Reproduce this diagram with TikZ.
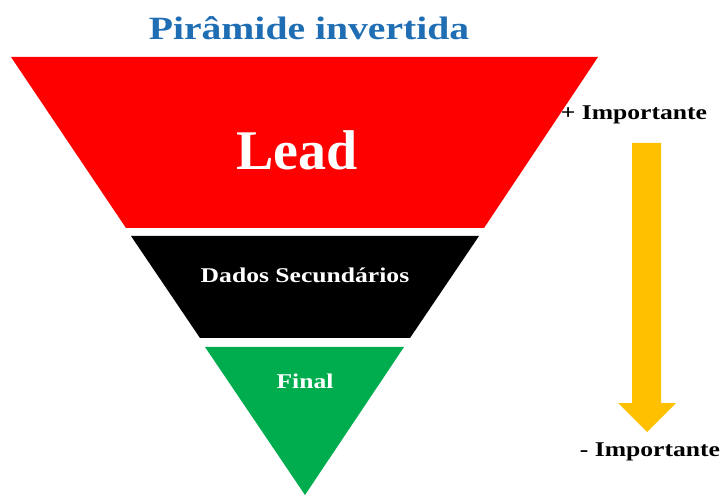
\documentclass[tikz,border=0pt]{standalone}
\usepackage{fontspec}
\setmainfont{Liberation Serif}
\newfontfamily\wideserif{Liberation Serif}[FakeStretch=1.22]
\definecolor{titleblue}{HTML}{1F6EB4}
\definecolor{leadred}{HTML}{FF0000}
\definecolor{finalgreen}{HTML}{00AD4E}
\definecolor{arrowgold}{HTML}{FFC000}

\begin{document}
\begin{tikzpicture}[x=1pt,y=-1pt,
    layertext/.style={text=white, font=\wideserif\bfseries\fontsize{21}{24}\selectfont},
    sidetext/.style={text=black, font=\wideserif\bfseries\fontsize{21}{24}\selectfont}]
    \useasboundingbox (0,0) rectangle (721,497);
    \fill[leadred] (11,57) -- (598,57) -- (484,228) -- (126,228) -- cycle;
    \fill[black] (131,236) -- (479,236) -- (410,338) -- (200,338) -- cycle;
    \fill[finalgreen] (205,347) -- (404,347) -- (305,495) -- cycle;
    \draw (309,28)node(title)[text=titleblue, font=\wideserif\bfseries\fontsize{32.5}{36}\selectfont]{Pirâmide invertida}
    (297,150)node(lead)[text=white, font=\bfseries\fontsize{56}{60}\selectfont]{Lead}
    (305,275)node(dados)[layertext]{Dados Secundários}
    (305,381)node(final)[layertext]{Final}
    (634,115)node(mais)[sidetext]{+ Importante}
    (650,452)node(menos)[sidetext]{- Importante};
    \fill[arrowgold] (632,143) -- (661,143) -- (661,403) -- (676,403)
        -- (647,432) -- (618,403) -- (632,403) -- cycle;
\end{tikzpicture}
\end{document}
